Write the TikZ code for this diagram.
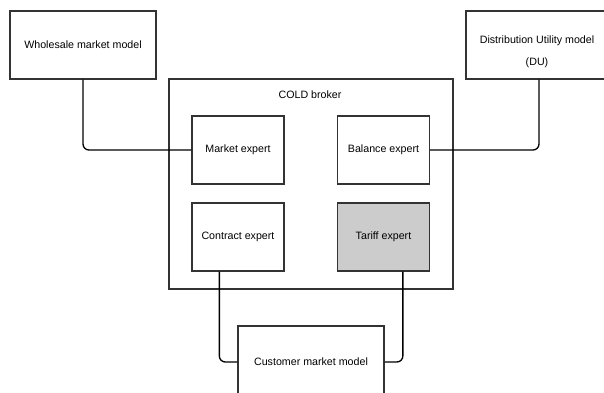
\documentclass[tikz,border=0pt]{standalone}
\usepackage{fontspec}
\setmainfont{Liberation Sans}
\usetikzlibrary{positioning}

\begin{document}
\begin{tikzpicture}[x=0.75pt, y=-0.75pt,
  box/.style={draw=black!80, line width=1pt, rectangle, inner sep=0pt,
    font=\fontsize{8}{10}\selectfont, align=center},
  expert/.style={box, minimum width=69pt, minimum height=51pt},
  model/.style={box, minimum width=109.5pt, minimum height=51pt},
  link/.style={draw=black, line width=1pt, rounded corners=4.5pt}]
  \clip (0,0) rectangle (604,393);
  % outer models
  \node [model] (whole) at (83,45) {Wholesale market model};
  \node [model, minimum width=106.5pt] (du) at (537,45)
    {\raisebox{-15.5pt}[0pt][0pt]{\begin{tabular}[b]{@{}c@{}}
      Distribution Utility model\\[6.5pt](DU)\end{tabular}}};
  \node [model, minimum height=54pt] (cust) at (311,362) {Customer market model};
  % broker
  \node [box, minimum width=213pt, minimum height=157.5pt] (cold) at (311,184) {};
  \node [font=\fontsize{8}{10}\selectfont] (coldlbl) at (310,95) {COLD broker};
  \node [expert] (market) at (238,150) {Market expert};
  \node [expert] (balance) at (383.5,150) {Balance expert};
  \node [expert] (contract) at (238,237) {Contract expert};
  \node [expert, fill=black!20] (tariff) at (383.5,237) {Tariff expert};
  % links
  \draw [link] (whole.south) |- (market.west);
  \draw [link] ([xshift=1.5pt]du.south) |- (balance.east);
  \draw [link] ([xshift=-14pt]contract.south) |- (cust.west);
  \draw [link] ([xshift=14.5pt]tariff.south) |- (cust.east);
\end{tikzpicture}
\end{document}
